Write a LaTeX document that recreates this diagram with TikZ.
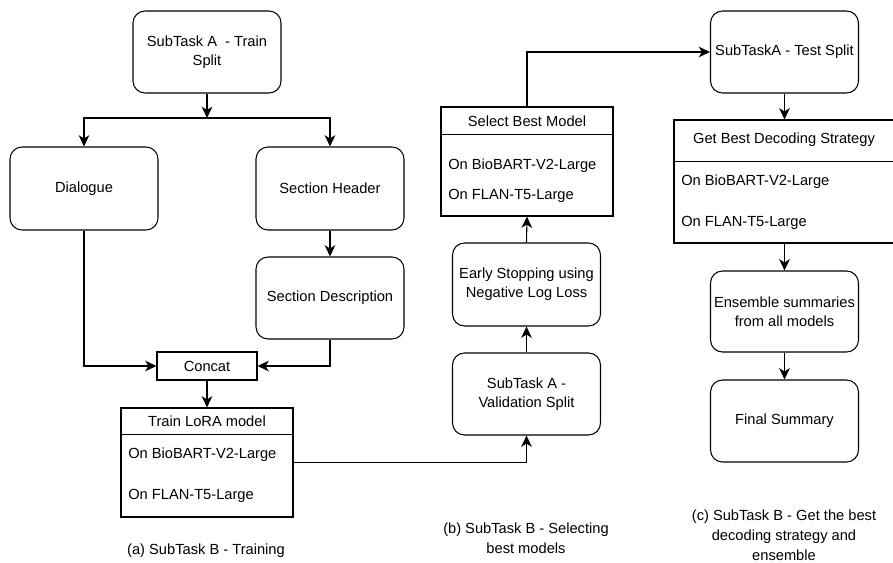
\documentclass[tikz,border=0pt]{standalone}
\usepackage{fontspec}
\setmainfont{Liberation Sans}
\usetikzlibrary{arrows.meta}
\begin{document}
\begin{tikzpicture}[x=0.75pt,y=-0.75pt,
  every node/.style={font=\fontsize{11}{14.3}\selectfont},
  line/.style={line width=0.8pt, draw=black},
  arr/.style={line, -{Stealth[length=8.5pt,width=8pt,inset=2.5pt]}},
  rbox/.style={line, rounded corners=9pt, minimum width=111pt, minimum height=61.5pt, align=center, inner sep=0pt},
  sbox/.style={line, inner sep=0pt},
  item/.style={anchor=west, inner sep=0pt},
  captxt/.style={align=center, inner sep=0pt, font=\fontsize{11}{15}\selectfont}]
\useasboundingbox (0,0) rectangle (893,563);

% (a) training
\node[rbox] (trainsplit) at (207,52) {SubTask A\ \ - Train\\Split};
\coordinate (fork) at (207,118);
\node[rbox, minimum height=62.25pt] (dialogue) at (84,188.5) {Dialogue};
\node[rbox, minimum height=62.25pt] (sechead) at (330,188.5) {Section Header};
\node[rbox] (secdesc) at (330,298) {Section Description};
\node[sbox, minimum width=75pt, minimum height=21pt] (concat) at (207,366) {Concat};
\node[sbox, minimum width=129pt, minimum height=81.75pt] (lora) at (207,462.5) {};
\node[inner sep=0pt] (lorahead) at (207,421.5) {Train LoRA model};
\draw[line] ([yshift=-20.25pt]lora.north west) -- ([yshift=-20.25pt]lora.north east);
\node[item] (lora1) at (128,455) {On BioBART-V2-Large};
\node[item] (lora2) at (128,496) {On FLAN-T5-Large};
\node[captxt] (capa) at (206,551) {(a) SubTask B - Training};

% (b) selecting
\node[rbox] (valid) at (526.5,394) {SubTask A -\\Validation Split};
\node[rbox, minimum height=62.25pt] (early) at (526.5,284.5) {Early Stopping using\\Negative Log Loss};
\node[sbox, minimum width=129pt, minimum height=81.75pt] (select) at (527,161.5) {};
\node[inner sep=0pt] (selhead) at (527,121) {Select Best Model};
\draw[line] ([yshift=-21pt]select.north west) -- ([yshift=-21pt]select.north east);
\node[item] (sel1) at (448,166) {On BioBART-V2-Large};
\node[item] (sel2) at (448,196) {On FLAN-T5-Large};
\node[captxt] (capb) at (526,538) {(b) SubTask B - Selecting\\best models};

% (c) decoding
\node[rbox] (test) at (784.5,52) {SubTaskA - Test Split};
\node[sbox, minimum width=165pt, minimum height=92.25pt] (decode) at (784,181.5) {};
\node[inner sep=0pt] (dechead) at (784,140) {Get Best Decoding Strategy};
\draw[line] ([yshift=-31.5pt]decode.north west) -- ([yshift=-31.5pt]decode.north east);
\node[item] (dec1) at (681,182) {On BioBART-V2-Large};
\node[item] (dec2) at (681,223) {On FLAN-T5-Large};
\node[rbox, minimum height=60.75pt] (ensemble) at (784.5,311.5) {Ensemble summaries\\from all models};
\node[rbox] (final) at (784.5,421) {Final Summary};
\node[captxt] (capc) at (784,535) {(c) SubTask B - Get the best\\decoding strategy and\\ensemble};

% connectors
\draw[arr] (trainsplit.south) -- (fork);
\draw[arr] (fork) -| (dialogue.north);
\draw[arr] (fork) -| (sechead.north);
\draw[arr] (sechead.south) -- (secdesc.north);
\draw[arr] (dialogue.south) |- (concat.west);
\draw[arr] (secdesc.south) |- (concat.east);
\draw[arr] (concat.south) -- (lora.north);
\draw[arr] (lora.east) -| (valid.south);
\draw[arr] (valid.north) -- (early.south);
\draw[arr] (early.north) -- (select.south);
\draw[arr] (select.north) |- (test.west);
\draw[arr] (test.south) -- (test.south |- decode.north);
\draw[arr] (decode.south -| ensemble.north) -- (ensemble.north);
\draw[arr] (ensemble.south) -- (final.north);
\end{tikzpicture}
\end{document}
